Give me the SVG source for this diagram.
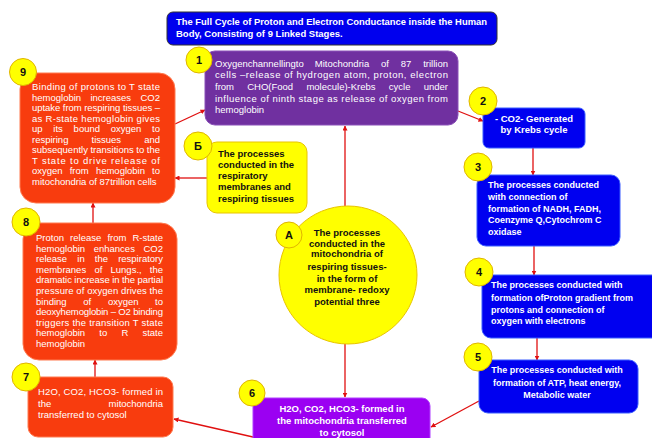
<svg xmlns="http://www.w3.org/2000/svg" width="652" height="438" viewBox="0 0 652 438">
<style>
.red{fill:#f83c0e;stroke:#ff7a50;stroke-width:1}
.blue{fill:#0000f0;stroke:#3a5cff;stroke-width:1}
.yel{fill:#ffff00;stroke:#e8c400;stroke-width:1}
.badge{fill:#ffff00;stroke:#e0b400;stroke-width:1}
.bn{font-family:"Liberation Sans",Arial,sans-serif;font-weight:bold;font-size:11px;fill:#111;text-anchor:middle}
.wt{font-family:"Liberation Sans",Arial,sans-serif;font-size:9.5px;fill:#fff}
.wb{font-family:"Liberation Sans",Arial,sans-serif;font-size:9px;font-weight:bold;fill:#fff}
.kb{font-family:"Liberation Sans",Arial,sans-serif;font-size:9.5px;font-weight:bold;fill:#111}
.c{text-anchor:middle}
.e{text-anchor:end}
.ln{stroke:#e01010;stroke-width:1.3;fill:none;marker-end:url(#ah)}
</style>
<defs>
<marker id="ah" viewBox="0 0 10 10" refX="9" refY="5" markerWidth="5" markerHeight="5" orient="auto" markerUnits="userSpaceOnUse">
<path d="M0,0 L10,5 L0,10 z" fill="#e01010"/>
</marker>
</defs>
<rect width="652" height="438" fill="#fff"/>

<g id="connectors">
<line class="ln" x1="175" y1="124" x2="205" y2="110"/>
<line class="ln" x1="458" y1="111" x2="483" y2="121"/>
<line class="ln" x1="533" y1="148" x2="533" y2="175"/>
<line class="ln" x1="534" y1="246" x2="534" y2="275"/>
<line class="ln" x1="537" y1="338" x2="537" y2="360"/>
<line class="ln" x1="479" y1="401" x2="431" y2="427"/>
<line class="ln" x1="253" y1="437" x2="174" y2="419"/>
<line class="ln" x1="95" y1="377" x2="95" y2="360"/>
<line class="ln" x1="93" y1="223" x2="93" y2="203"/>
<line class="ln" x1="207" y1="178" x2="175" y2="178"/>
<line class="ln" x1="345" y1="206" x2="345" y2="126"/>
<line class="ln" x1="345" y1="344" x2="345" y2="397"/>
</g>

<g id="title">
<rect x="167" y="12" width="330" height="33" rx="6" fill="#0000ee" stroke="#333" stroke-width="1"/>
<text class="wb" style="font-size:9.5px" x="176" y="25" textLength="311" lengthAdjust="spacingAndGlyphs">The Full Cycle of Proton and Electron Conductance inside the Human</text>
<text class="wb" style="font-size:9.5px" x="176" y="36.5">Body, Consisting of 9 Linked Stages.</text>
</g>

<g id="node1">
<rect x="205" y="51" width="253" height="74" rx="10" fill="#7030a0" stroke="#8a50b8"/>
<text class="wt"><tspan x="215" y="66.5">Oxygenchannellingto</tspan><tspan x="314.8">Mitochondria</tspan><tspan x="381">of</tspan><tspan x="400.7">87</tspan></text>
<text class="wt e" x="448" y="66.5">trillion</text>
<text class="wt" x="215" y="78.2" textLength="233" lengthAdjust="spacing">cells –release of hydrogen atom, proton, electron</text>
<text class="wt"><tspan x="215" y="89.9">from</tspan><tspan x="247.2">CHO(Food</tspan><tspan x="306.4">molecule)-Krebs</tspan><tspan x="388.8">cycle</tspan></text>
<text class="wt e" x="448" y="89.9">under</text>
<text class="wt" x="215" y="101.5" textLength="233" lengthAdjust="spacing">influence of ninth stage as release of oxygen from</text>
<text class="wt" x="215" y="113.2">hemoglobin</text>
<circle class="badge" cx="199" cy="60" r="13"/>
<text class="bn" x="199" y="64">1</text>
</g>

<g id="node2">
<rect class="blue" x="483" y="108" width="102" height="40" rx="6"/>
<text class="wb c" style="font-size:9.5px" x="534" y="121.7">- CO2- Generated</text>
<text class="wb c" style="font-size:9.5px" x="534" y="133.3">by Krebs cycle</text>
<circle class="badge" cx="483" cy="101" r="14"/>
<text class="bn" x="483" y="105">2</text>
</g>

<g id="node3">
<rect class="blue" x="477" y="175" width="143" height="71" rx="9"/>
<text class="wb" x="488" y="188.3">The processes conducted</text>
<text class="wb" x="488" y="200">with connection of</text>
<text class="wb" x="488" y="211.7">formation  of NADH, FADH,</text>
<text class="wb" x="488" y="223.3">Coenzyme Q,Cytochrom C</text>
<text class="wb" x="488" y="235">oxidase</text>
<circle class="badge" cx="478" cy="167" r="14"/>
<text class="bn" x="478" y="171">3</text>
</g>

<g id="node4">
<rect class="blue" x="482" y="275" width="180" height="63" rx="9"/>
<text class="wb" x="491" y="288.3">The processes conducted with</text>
<text class="wb" x="491" y="300.7">formation ofProton gradient from</text>
<text class="wb" x="491" y="312.7">protons and connection of</text>
<text class="wb" x="491" y="324">oxygen with electrons</text>
<circle class="badge" cx="479" cy="272" r="14"/>
<text class="bn" x="479" y="276">4</text>
</g>

<g id="node5">
<rect class="blue" x="479" y="360" width="159" height="53" rx="9"/>
<text class="wb c" x="557" y="373.3">The processes conducted with</text>
<text class="wb c" x="557" y="386">formation of ATP, heat energy,</text>
<text class="wb c" x="557" y="398.3">Metabolic water</text>
<circle class="badge" cx="478" cy="357" r="14"/>
<text class="bn" x="478" y="361">5</text>
</g>

<g id="node6">
<rect x="253" y="398" width="177" height="50" rx="8" fill="#9b00f2" stroke="#b040ff"/>
<text class="wb c" style="font-size:9.5px" x="342" y="411.7">H2O, CO2, HCO3- formed in</text>
<text class="wb c" style="font-size:9.5px" x="342" y="424">the mitochondria transferred</text>
<text class="wb c" style="font-size:9.5px" x="342" y="436">to cytosol</text>
<circle class="badge" cx="252" cy="393" r="13"/>
<text class="bn" x="252" y="397">6</text>
</g>

<g id="node7">
<rect class="red" x="28" y="377" width="145" height="60" rx="10"/>
<text class="wt" x="38" y="395" textLength="125" lengthAdjust="spacing">H2O, CO2, HCO3- formed in</text>
<text class="wt" x="38" y="406.5">the</text>
<text class="wt e" x="163" y="406.5">mitochondria</text>
<text class="wt" x="38" y="418">transferred to cytosol</text>
<circle class="badge" cx="26" cy="377" r="14"/>
<text class="bn" x="26" y="381">7</text>
</g>

<g id="node8">
<rect class="red" x="23" y="223" width="154" height="137" rx="16"/>
<text class="wt"><tspan x="36" y="241">Proton</tspan><tspan x="70.1">release</tspan><tspan x="107.4">from</tspan></text>
<text class="wt e" x="163" y="241">R-state</text>
<text class="wt"><tspan x="36" y="251.6">hemoglobin</tspan><tspan x="93.7">enhances</tspan></text>
<text class="wt e" x="163" y="251.6">CO2</text>
<text class="wt"><tspan x="36" y="262.2">release</tspan><tspan x="77.3">in</tspan><tspan x="94.8">the</tspan></text>
<text class="wt e" x="163" y="262.2">respiratory</text>
<text class="wt"><tspan x="36" y="272.8">membranes</tspan><tspan x="94.4">of</tspan><tspan x="110.5">Lungs.,</tspan></text>
<text class="wt e" x="163" y="272.8">the</text>
<text class="wt" x="36" y="283.4" textLength="127" lengthAdjust="spacing">dramatic increase in the partial</text>
<text class="wt" x="36" y="294" textLength="127" lengthAdjust="spacing">pressure of oxygen drives the</text>
<text class="wt"><tspan x="36" y="304.6">binding</tspan><tspan x="83.3">of</tspan><tspan x="107.9">oxygen</tspan></text>
<text class="wt e" x="163" y="304.6">to</text>
<text class="wt" x="36" y="315.2" textLength="127" lengthAdjust="spacing">deoxyhemoglobin – O2 binding</text>
<text class="wt" x="36" y="325.8" textLength="127" lengthAdjust="spacing">triggers the transition T state</text>
<text class="wt"><tspan x="36" y="336.4">hemoglobin</tspan><tspan x="99.3">to</tspan><tspan x="121.4">R</tspan></text>
<text class="wt e" x="163" y="336.4">state</text>
<text class="wt" x="36" y="347">hemoglobin</text>
<circle class="badge" cx="26" cy="222" r="14"/>
<text class="bn" x="26" y="226">8</text>
</g>

<g id="node9">
<rect class="red" x="20" y="73" width="155" height="130" rx="16"/>
<text class="wt" x="32" y="90" textLength="128" lengthAdjust="spacing">Binding of protons to T state</text>
<text class="wt"><tspan x="32" y="100.6">hemoglobin</tspan><tspan x="90.4">increases</tspan></text>
<text class="wt e" x="160" y="100.6">CO2</text>
<text class="wt" x="32" y="111.1" textLength="128" lengthAdjust="spacing">uptake from respiring tissues –</text>
<text class="wt" x="32" y="121.7" textLength="128" lengthAdjust="spacing">as R-state hemoglobin gives</text>
<text class="wt"><tspan x="32" y="132.2">up</tspan><tspan x="53.3">its</tspan><tspan x="73.6">bound</tspan><tspan x="110.7">oxygen</tspan></text>
<text class="wt e" x="160" y="132.2">to</text>
<text class="wt"><tspan x="32" y="142.8">respiring</tspan><tspan x="91.5">tissues</tspan></text>
<text class="wt e" x="160" y="142.8">and</text>
<text class="wt" x="32" y="153.3" textLength="128" lengthAdjust="spacing">subsequently transitions to the</text>
<text class="wt" x="32" y="163.9" textLength="128" lengthAdjust="spacing">T state to drive release of</text>
<text class="wt"><tspan x="32" y="174.4">oxygen</tspan><tspan x="69.7">from</tspan><tspan x="95.9">hemoglobin</tspan></text>
<text class="wt e" x="160" y="174.4">to</text>
<text class="wt" x="32" y="185">mitochondria of 87trillion cells</text>
<circle class="badge" cx="23" cy="72" r="13.5"/>
<text class="bn" x="23" y="76">9</text>
</g>

<g id="nodeB">
<rect class="yel" x="207" y="142" width="100" height="71" rx="10"/>
<text class="kb" x="218" y="156.7">The processes</text>
<text class="kb" x="218" y="167.7">conducted in the</text>
<text class="kb" x="218" y="179">respiratory</text>
<text class="kb" x="218" y="190">membranes and</text>
<text class="kb" x="218" y="201.7">respiring tissues</text>
<circle class="badge" cx="198" cy="146" r="14"/>
<text class="bn" x="198" y="150">Б</text>
</g>

<g id="nodeA">
<circle class="yel" cx="348" cy="275" r="69"/>
<text class="kb c" x="347" y="236">The processes</text>
<text class="kb c" x="347" y="246.7">conducted in the</text>
<text class="kb c" x="347" y="257.3">mitochondria of</text>
<text class="kb c" x="347" y="270">respiring tissues-</text>
<text class="kb c" x="347" y="281.7">in the form of</text>
<text class="kb c" x="347" y="293.3">membrane- redoxy</text>
<text class="kb c" x="347" y="305">potential three</text>
<circle class="badge" cx="289" cy="235" r="13"/>
<text class="bn" x="289" y="239">A</text>
</g>
</svg>
